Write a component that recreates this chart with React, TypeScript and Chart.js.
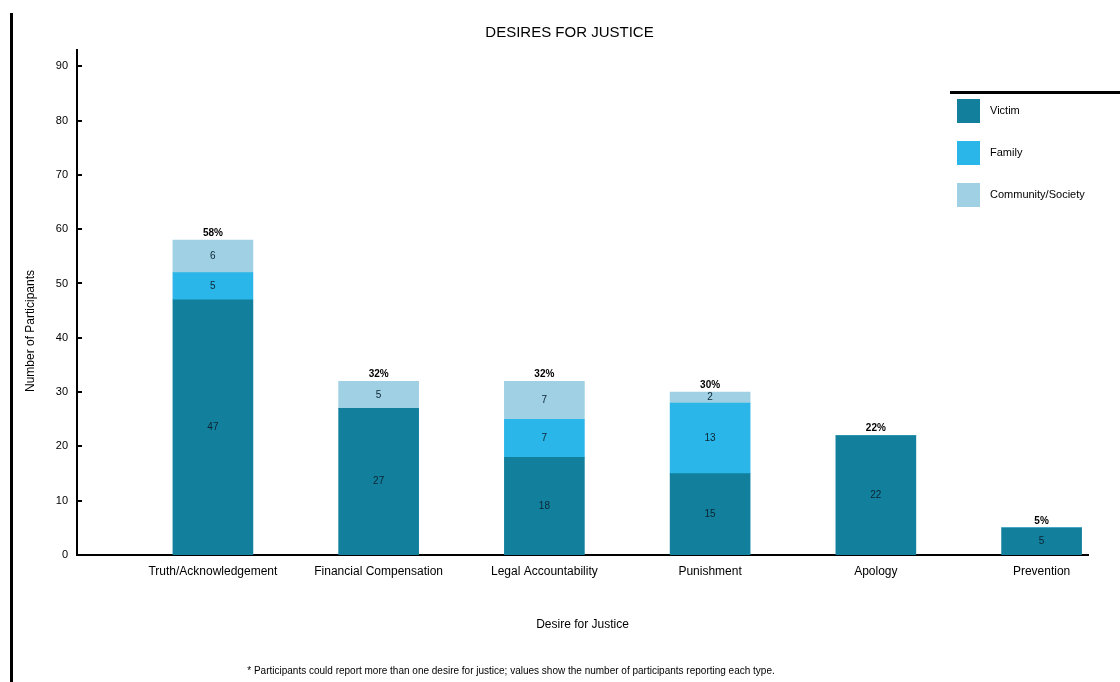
import { useEffect, useRef } from "react";
import { Chart, registerables } from "chart.js";

Chart.register(...registerables);

// ---------- data ----------
const categories = [
  "Truth/Acknowledgement",
  "Financial Compensation",
  "Legal Accountability",
  "Punishment",
  "Apology",
  "Prevention",
];
const seriesNames = ["Victim", "Family", "Community/Society"];
const victimValues = [47, 27, 18, 15, 22, 5];
const familyValues = [5, 0, 7, 13, 0, 0];
const communityValues = [6, 5, 7, 2, 0, 0];
const yTickValues = [0, 10, 20, 30, 40, 50, 60, 70, 80, 90];
const seriesColors = ["#12809c", "#2bb6e9", "#9fd0e4"];

const chartTitle = "DESIRES FOR JUSTICE";
const xTitle = "Desire for Justice";
const yTitle = "Number of Participants";
const footnote =
  "* Participants could report more than one desire for justice; values show the number of participants reporting each type.";

const FONT = "'Liberation Sans', Arial, sans-serif";

const decorPlugin = {
  id: "decor",
  beforeDraw(chart: any) {
    const ctx = chart.ctx;
    ctx.save();
    ctx.fillStyle = "#fff";
    ctx.fillRect(0, 0, chart.width, chart.height);
    ctx.restore();
  },
  afterDatasetsDraw(chart: any) {
    const ctx = chart.ctx;
    ctx.save();
    ctx.textAlign = "center";
    ctx.textBaseline = "middle";
    ctx.font = `10px ${FONT}`;
    ctx.fillStyle = "#0b2433";
    const tops: number[] = categories.map(() => Infinity);
    chart.data.datasets.forEach((ds: any, di: number) => {
      const meta = chart.getDatasetMeta(di);
      meta.data.forEach((el: any, i: number) => {
        const v = ds.data[i].y as number;
        if (!v) return;
        const p = el.getProps(["x", "y", "base"], true);
        ctx.fillText(String(v), p.x, (p.y + p.base) / 2);
        tops[i] = Math.min(tops[i], p.y);
      });
    });
    // totals above bars
    ctx.fillStyle = "#000";
    ctx.font = `bold 10px ${FONT}`;
    ctx.textBaseline = "bottom";
    const xs = chart.scales.x;
    categories.forEach((_, i) => {
      const total = victimValues[i] + familyValues[i] + communityValues[i];
      ctx.fillText(total + "%", xs.getPixelForValue(i), tops[i] - 2);
    });
    ctx.restore();
  },
  afterDraw(chart: any) {
    const ctx = chart.ctx;
    const ca = chart.chartArea;
    ctx.save();
    ctx.fillStyle = "#000";
    // outer frame line on the left
    ctx.fillRect(10, 13, 3, chart.height - 13);
    // inward y ticks
    const ys = chart.scales.y;
    yTickValues.forEach((v) => {
      const py = Math.round(ys.getPixelForValue(v));
      ctx.fillRect(ca.left, py - 1, 5, 2);
    });
    // title
    ctx.font = `15px ${FONT}`;
    ctx.textAlign = "center";
    ctx.textBaseline = "middle";
    ctx.fillText(chartTitle, (ca.left + ca.right) / 2 - 13, 33);
    // y title
    ctx.save();
    ctx.translate(31, 331);
    ctx.rotate(-Math.PI / 2);
    ctx.font = `12px ${FONT}`;
    ctx.fillText(yTitle, 0, 0);
    ctx.restore();
    // legend
    ctx.fillRect(950, 91, chart.width - 950, 3);
    ctx.font = `11px ${FONT}`;
    ctx.textAlign = "left";
    seriesNames.forEach((name, k) => {
      const sy = 99 + k * 42;
      ctx.fillStyle = seriesColors[k];
      ctx.fillRect(957, sy, 23, 24);
      ctx.fillStyle = "#000";
      ctx.fillText(name, 990, sy + 12);
    });
    // footnote
    ctx.font = `10px ${FONT}`;
    ctx.textAlign = "center";
    ctx.fillText(footnote, 511, 671);
    ctx.restore();
  },
};

export default function App() {
  const canvasRef = useRef<HTMLCanvasElement | null>(null);

  useEffect(() => {
    document.body.style.margin = "0";
    const canvas = canvasRef.current;
    if (!canvas) return;
    const toPoints = (arr: number[]) => arr.map((v, i) => ({ x: i, y: v }));
    const valueSets = [victimValues, familyValues, communityValues];
    const chart = new Chart(canvas, {
      type: "bar",
      data: {
        datasets: seriesNames.map((name, k) => ({
          label: name,
          data: toPoints(valueSets[k]),
          backgroundColor: seriesColors[k],
          borderWidth: 0,
          barThickness: 80,
        })),
      },
      options: {
        responsive: false,
        animation: false,
        layout: { padding: { top: 50, right: 32, left: 0, bottom: 0 } },
        plugins: {
          legend: { display: false },
          tooltip: { enabled: false },
          title: { display: false },
        },
        scales: {
          x: {
            type: "linear",
            stacked: true,
            offset: false,
            min: -0.82,
            max: 5.28,
            afterBuildTicks: (scale: any) => {
              scale.ticks = categories.map((_, i) => ({ value: i }));
            },
            afterFit: (scale: any) => {
              scale.height = 127;
            },
            ticks: {
              autoSkip: false,
              maxRotation: 0,
              minRotation: 0,
              padding: 9,
              color: "#000",
              font: { family: FONT, size: 12 },
              callback: (v: any) => categories[Number(v)] ?? "",
            },
            grid: { display: false, drawTicks: false, offset: false },
            border: { display: true, color: "#000", width: 2 },
            title: {
              display: true,
              text: xTitle,
              color: "#000",
              font: { family: FONT, size: 12 },
              padding: { top: 0, bottom: 50 },
            },
          },
          y: {
            stacked: true,
            min: 0,
            max: 93,
            afterBuildTicks: (scale: any) => {
              scale.ticks = yTickValues.map((v) => ({ value: v }));
            },
            afterFit: (scale: any) => {
              scale.width = 77;
            },
            ticks: {
              padding: 9,
              color: "#000",
              font: { family: FONT, size: 11 },
            },
            grid: { display: false, drawTicks: false },
            border: { display: true, color: "#000", width: 2 },
          },
        },
      },
      plugins: [decorPlugin],
    } as any);
    return () => chart.destroy();
  }, []);

  return (
    <div style={{ width: 1120, height: 682, overflow: "hidden", background: "#fff" }}>
      <canvas ref={canvasRef} width={1120} height={682} style={{ display: "block" }} />
    </div>
  );
}
